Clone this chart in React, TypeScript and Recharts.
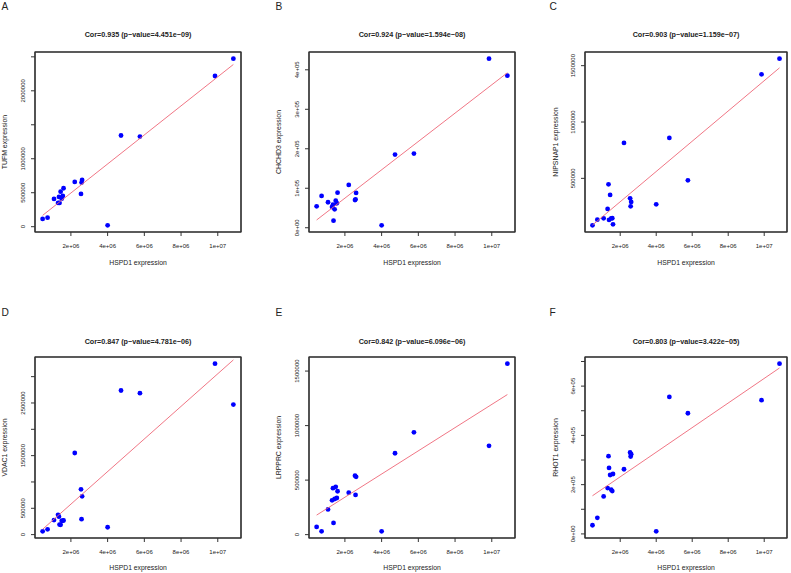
import React from 'react';
import { ScatterChart, Scatter, XAxis, YAxis, ReferenceLine } from 'recharts';

// Shared x values (HSPD1 expression)
const HSPD1 = [460000, 730000, 1080000, 1300000, 1350000, 1380000, 1440000, 1500000, 1560000, 1600000, 2210000, 2550000, 2580000, 2610000, 4000000, 4730000, 5760000, 9850000, 10850000];

const TUFM = [113600, 132700, 408500, 349600, 438000, 349600, 516000, 413000, 453000, 566000, 659000, 482000, 649000, 689000, 20000, 1342000, 1327000, 2218000, 2473000];
const CHCHD3 = [54300, 80500, 64500, 52500, 58400, 17800, 46700, 68500, 62000, 88800, 108400, 70000, 72000, 88100, 6100, 185300, 187800, 428200, 385000];
const NIPSNAP1 = [83000, 133500, 145000, 228500, 446800, 130900, 352700, 145000, 146000, 91800, 814100, 322500, 251600, 290600, 269300, 858500, 482300, 1422800, 1562100];
const VDAC1 = [63000, 101000, 277000, 375000, 340000, 191000, 186000, 262000, 265000, 270000, 1550000, 861000, 292900, 727400, 139700, 2737000, 2686000, 3246000, 2469000];
const LRPPRC = [70400, 30600, 231500, 314800, 425900, 107400, 326800, 438000, 336000, 398000, 385200, 539800, 363900, 530600, 30600, 746300, 938000, 814800, 1567600];
const RHOT1 = [35100, 65300, 152200, 186100, 315500, 267800, 239200, 179600, 173900, 243300, 262400, 330600, 314300, 323700, 10600, 556300, 489800, 542900, 691000];

const X_TICKS = [2000000, 4000000, 6000000, 8000000, 10000000];
const X_TICK_LABELS = ['2e+06', '4e+06', '6e+06', '8e+06', '1e+07'];

const TUFM_TICKS = [0, 500000, 1000000, 1500000, 2000000, 2500000];
const TUFM_LABELS = ['0', '500000', '1000000', '', '2000000', ''];
const CHCHD3_TICKS = [0, 100000, 200000, 300000, 400000];
const CHCHD3_LABELS = ['0e+00', '1e+05', '2e+05', '3e+05', '4e+05'];
const NIPSNAP1_TICKS = [500000, 1000000, 1500000];
const NIPSNAP1_LABELS = ['500000', '1000000', '1500000'];
const VDAC1_TICKS = [0, 500000, 1000000, 1500000, 2000000, 2500000, 3000000];
const VDAC1_LABELS = ['0', '500000', '', '1500000', '', '2500000', ''];
const LRPPRC_TICKS = [0, 500000, 1000000, 1500000];
const LRPPRC_LABELS = ['0', '500000', '1000000', '1500000'];
const RHOT1_TICKS = [0, 100000, 200000, 300000, 400000, 500000, 600000, 700000];
const RHOT1_LABELS = ['0e+00', '', '2e+05', '', '4e+05', '', '6e+05', ''];

const TITLES = [
  'Cor=0.935 (p\u2212value=4.451e\u221209)',
  'Cor=0.924 (p\u2212value=1.594e\u221208)',
  'Cor=0.903 (p\u2212value=1.159e\u221207)',
  'Cor=0.847 (p\u2212value=4.781e\u221206)',
  'Cor=0.842 (p\u2212value=6.096e\u221206)',
  'Cor=0.803 (p\u2212value=3.422e\u221205)',
];
const Y_NAMES = ['TUFM expression', 'CHCHD3 expression', 'NIPSNAP1 expression', 'VDAC1 expression', 'LRPPRC expression', 'RHOT1 expression'];
const LETTERS = ['A', 'B', 'C', 'D', 'E', 'F'];
const X_NAME = 'HSPD1 expression';

const FONT = '"Liberation Sans", Arial, Helvetica, sans-serif';
const TEXT = '#222';
const FRAME = '#333';
const M = 30;

type Box = { l: number; t: number; w: number; h: number };

const BOXES: Box[] = [
  { l: 35, t: 52, w: 206, h: 180 },
  { l: 309, t: 52, w: 206, h: 180 },
  { l: 585, t: 52, w: 202, h: 180 },
  { l: 35, t: 357, w: 206, h: 181 },
  { l: 309, t: 357, w: 206, h: 181 },
  { l: 585, t: 357, w: 202, h: 181 },
];
const LETTER_POS = [
  [1.5, 10], [275.5, 10], [549.5, 10],
  [1.5, 315.5], [275.5, 315.5], [549.5, 315.5],
];
const YLABEL_X = [5, 279, 555.5, 5, 279, 555.5];

function ext(vals: number[]): [number, number] {
  const mn = Math.min(...vals);
  const mx = Math.max(...vals);
  const r = mx - mn;
  return [mn - 0.04 * r, mx + 0.04 * r];
}

function fit(xs: number[], ys: number[]) {
  const n = xs.length;
  const mx = xs.reduce((a, b) => a + b, 0) / n;
  const my = ys.reduce((a, b) => a + b, 0) / n;
  let sxy = 0, sxx = 0;
  for (let i = 0; i < n; i++) {
    sxy += (xs[i] - mx) * (ys[i] - my);
    sxx += (xs[i] - mx) * (xs[i] - mx);
  }
  const b = sxy / sxx;
  const a = my - b * mx;
  const x0 = Math.min(...xs);
  const x1 = Math.max(...xs);
  return [{ x: x0, y: a + b * x0 }, { x: x1, y: a + b * x1 }];
}

function Panel({ box, ys, yTicks, yLabels }: { box: Box; ys: number[]; yTicks: number[]; yLabels: string[] }) {
  const data = HSPD1.map((x, i) => ({ x, y: ys[i] }));
  const xDom = ext(HSPD1);
  const yDom = ext(ys);
  const line = fit(HSPD1, ys);
  const W = box.w + 2 * M;
  const H = box.h + 2 * M;
  const XTick = (p: any) => {
    const idx = X_TICKS.indexOf(p.payload.value);
    return (
      <text x={p.x} y={M + box.h + 16} textAnchor="middle" fontSize={6} fill={TEXT} fontFamily={FONT}>
        {X_TICK_LABELS[idx]}
      </text>
    );
  };
  const YTick = (p: any) => {
    const idx = yTicks.indexOf(p.payload.value);
    const lab = yLabels[idx];
    if (!lab) return <g />;
    const x = M - 10.4;
    return (
      <text x={x} y={p.y} transform={`rotate(-90, ${x}, ${p.y})`} textAnchor="middle" fontSize={6} fill={TEXT} fontFamily={FONT}>
        {lab}
      </text>
    );
  };
  return (
    <div style={{ position: 'absolute', left: box.l - M, top: box.t - M, width: W, height: H }}>
      <ScatterChart width={W} height={H} margin={{ top: M, right: M, bottom: 0, left: 0 }}>
        <XAxis
          type="number"
          dataKey="x"
          domain={xDom}
          ticks={X_TICKS}
          allowDataOverflow
          height={M}
          axisLine={{ stroke: FRAME, strokeWidth: 1.2 }}
          tickSize={4}
          tickLine={{ stroke: FRAME, strokeWidth: 1 }}
          tick={XTick}
          interval={0}
        />
        <YAxis
          type="number"
          dataKey="y"
          domain={yDom}
          ticks={yTicks}
          allowDataOverflow
          width={M}
          axisLine={{ stroke: FRAME, strokeWidth: 1.2 }}
          tickSize={4}
          tickLine={{ stroke: FRAME, strokeWidth: 1 }}
          tick={YTick}
          interval={0}
        />
        <ReferenceLine y={yDom[1]} stroke={FRAME} strokeWidth={1.2} ifOverflow="extendDomain" />
        <ReferenceLine x={xDom[1]} stroke={FRAME} strokeWidth={1.2} ifOverflow="extendDomain" />
        <Scatter
          data={data}
          isAnimationActive={false}
          shape={(p: any) => <circle cx={p.cx} cy={p.cy} r={2.4} fill="#0000ff" />}
        />
        <Scatter
          data={line}
          isAnimationActive={false}
          line={{ stroke: '#ee6677', strokeWidth: 0.9 }}
          shape={() => <g />}
        />
      </ScatterChart>
    </div>
  );
}

export default function App() {
  const series = [TUFM, CHCHD3, NIPSNAP1, VDAC1, LRPPRC, RHOT1];
  const ticks = [TUFM_TICKS, CHCHD3_TICKS, NIPSNAP1_TICKS, VDAC1_TICKS, LRPPRC_TICKS, RHOT1_TICKS];
  const labels = [TUFM_LABELS, CHCHD3_LABELS, NIPSNAP1_LABELS, VDAC1_LABELS, LRPPRC_LABELS, RHOT1_LABELS];
  return (
    <div style={{ position: 'absolute', left: 0, top: 0, width: 791, height: 573, background: '#fff' }}>
      {BOXES.map((b, i) => (
        <Panel key={i} box={b} ys={series[i]} yTicks={ticks[i]} yLabels={labels[i]} />
      ))}
      <svg width={791} height={573} style={{ position: 'absolute', left: 0, top: 0 }}>
        {BOXES.map((b, i) => (
          <rect key={'r' + i} x={b.l} y={b.t} width={b.w} height={b.h} fill="none" stroke={FRAME} strokeWidth={1.2} />
        ))}
        {BOXES.map((b, i) => {
          const cx = b.l + b.w / 2;
          const cy = b.t + b.h / 2;
          const row = i < 3 ? 0 : 1;
          const titleY = row === 0 ? 37.2 : 343.5;
          const xlabY = row === 0 ? 264.6 : 570.3;
          const ylx = YLABEL_X[i] + 2.4;
          return (
            <g key={i}>
              <text x={LETTER_POS[i][0]} y={LETTER_POS[i][1]} fontSize={10.2} fill={TEXT} fontFamily={FONT}>{LETTERS[i]}</text>
              <text x={cx} y={titleY} textAnchor="middle" fontSize={7.2} fontWeight="bold" fill={TEXT} fontFamily={FONT}>{TITLES[i]}</text>
              <text x={cx} y={xlabY} textAnchor="middle" fontSize={6.8} fill={TEXT} fontFamily={FONT}>{X_NAME}</text>
              <text x={ylx} y={cy} transform={`rotate(-90, ${ylx}, ${cy})`} textAnchor="middle" fontSize={6.9} fill={TEXT} fontFamily={FONT}>
                {Y_NAMES[i]}
              </text>
            </g>
          );
        })}
      </svg>
    </div>
  );
}
